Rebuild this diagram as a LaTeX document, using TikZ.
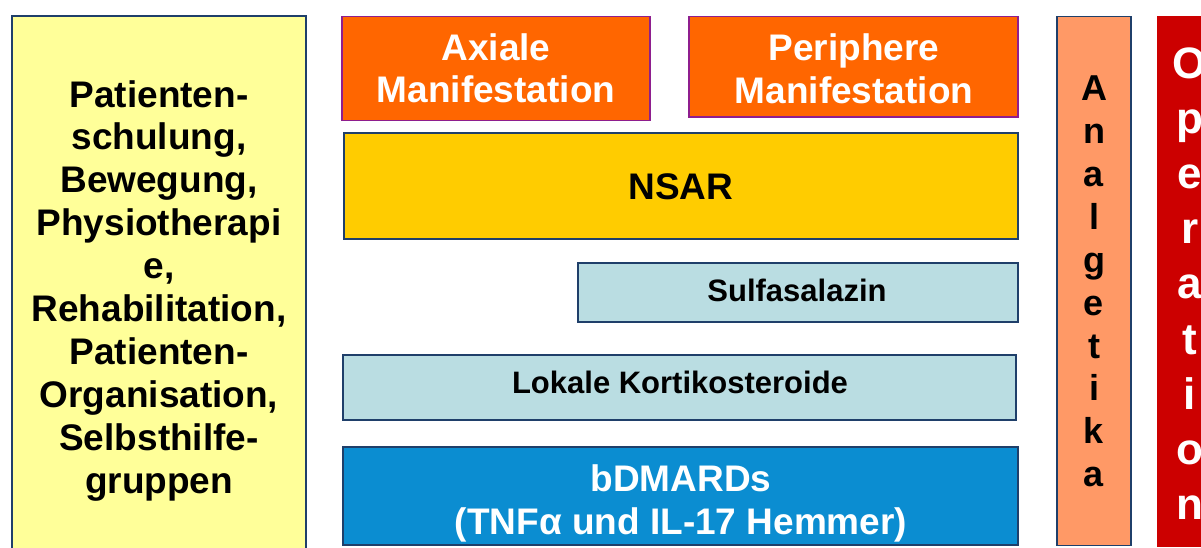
\documentclass[tikz,border=0pt]{standalone}
\usepackage{fontspec}
\setmainfont{Liberation Sans}
\definecolor{navy}{HTML}{1F3F6A}
\definecolor{purp}{HTML}{8E1E8E}
\definecolor{paleyellow}{HTML}{FFFF99}
\definecolor{orng}{HTML}{FF6600}
\definecolor{gold}{HTML}{FFCC00}
\definecolor{paleblue}{HTML}{BADDE2}
\definecolor{midblue}{HTML}{0B8DD1}
\definecolor{salmon}{HTML}{FF9966}
\definecolor{darkred}{HTML}{CC0000}
\begin{document}
\begin{tikzpicture}[x=1bp,y=-1bp,
  box/.style={draw=navy, line width=1.6bp, inner sep=0pt, outer sep=0pt, anchor=north west},
  pbox/.style={box, draw=purp},
  big/.style={font=\bfseries\fontsize{37bp}{42.9bp}\selectfont, align=center, inner sep=0pt},
  mid/.style={font=\bfseries\fontsize{31bp}{36bp}\selectfont, align=center, inner sep=0pt},
  vert/.style={font=\bfseries\fontsize{36bp}{42.9bp}\selectfont, align=center, inner sep=0pt},
  vertbig/.style={font=\bfseries\fontsize{44bp}{55.2bp}\selectfont, align=center, inner sep=0pt, text=white}]
\clip (0,0) rectangle (1201,548);
\fill[white] (0,0) rectangle (1201,548);
% boxes
\node[box, fill=paleyellow, minimum width=294bp, minimum height=544bp] (yel) at (12,16) {};
\node[pbox, fill=orng, minimum width=308bp, minimum height=104bp] (axbox) at (342,16.5) {};
\node[pbox, fill=orng, minimum width=329bp, minimum height=100.5bp] (pebox) at (689,16.5) {};
\node[box, fill=gold, minimum width=674bp, minimum height=106bp] (nsbox) at (344,133) {};
\node[box, fill=paleblue, minimum width=440bp, minimum height=59bp] (sulbox) at (578,263) {};
\node[box, fill=paleblue, minimum width=673bp, minimum height=65bp] (lokbox) at (343,355) {};
\node[box, fill=midblue, minimum width=675bp, minimum height=98bp] (bdbox) at (343,447) {};
\node[box, fill=salmon, minimum width=74bp, minimum height=529bp] (anbox) at (1057,16.5) {};
\node[box, draw=darkred, fill=darkred, minimum width=70bp, minimum height=529.5bp] (opbox) at (1158,16.5) {};
% texts
\node[big] (yeltext) at (159,290.6) {Patienten-\\schulung,\\Bewegung,\\Physiotherapi\\e,\\Rehabilitation,\\Patienten-\\Organisation,\\Selbsthilfe-\\gruppen};
\node[big, text=white] (axtext) at (496,68.3) {Axiale\\Manifestation};
\node[big, text=white] (petext) at (854,69) {Periphere\\Manifestation};
\node[big] (nstext) at (681,186.5) {NSAR};
\node[mid] (sultext) at (797,290.7) {Sulfasalazin};
\node[mid] (loktext) at (680,382.5) {Lokale Kortikosteroide};
\node[big, text=white] (bdtext) at (681,503) {bDMARDs\\(TNFα und IL-17 Hemmer)};
\node[vert] (antext) at (1094,281.5) {A\\n\\a\\l\\g\\e\\t\\i\\k\\a};
\node[vertbig] (optext) at (1190,283.5) {O\\p\\e\\r\\a\\t\\i\\o\\n};
\end{tikzpicture}
\end{document}
